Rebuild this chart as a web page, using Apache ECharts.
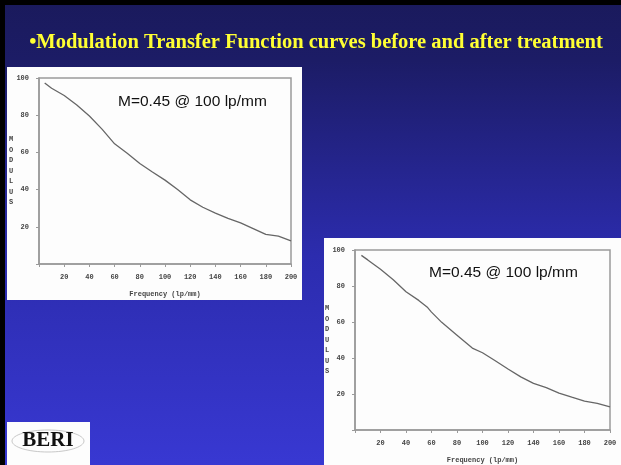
<!DOCTYPE html>
<html>
<head>
<meta charset="utf-8">
<script src="https://cdn.jsdelivr.net/npm/echarts@6/dist/echarts.min.js"></script>
<style>
  html, body { margin: 0; padding: 0; }
  #main { width: 621px; height: 465px; }
</style>
</head>
<body>
<div id="main"></div>
<script>
// MTF curve, before treatment
const freqBefore = [4.5, 10, 20, 30, 40, 50, 60, 70, 80, 90, 100, 110, 120, 130, 140, 150, 160, 170, 180, 190, 200]
const modBefore = [97.3, 94.5, 90.6, 85.5, 79.6, 72.5, 64.6, 59.5, 54, 49.5, 45.1, 40, 34.5, 30.5, 27.4, 24.5, 22.1, 19, 15.9, 15, 12.4]

// MTF curve, after treatment (right plot)
const freqAfter = [5, 10, 20, 30, 40, 50, 57, 60, 68, 80, 92, 100, 110, 120, 130, 140, 150, 160, 170, 180, 190, 200]
const modAfter = [97, 94.5, 89.3, 83.5, 76.8, 72, 68, 65.5, 59.8, 52.7, 45.5, 42.9, 38.5, 33.9, 29.5, 25.9, 23.5, 20.5, 18.2, 16, 14.8, 12.9]

const titleText = '\u2022Modulation Transfer Function curves before and after treatment'
const noteText = 'M=0.45 @ 100 lp/mm'
const xName = 'Frequency (lp/mm)'
const yName = 'MODULUS'

const chart = echarts.init(document.getElementById('main'))

const mono = 'Liberation Mono'
const tickColor = '#444'
const frameColor = '#9a9a9a'

function xAxisCfg(gridIndex) {
  return {
    gridIndex: gridIndex,
    type: 'value',
    min: 0,
    max: 200,
    interval: 20,
    name: xName,
    nameLocation: 'middle',
    nameGap: 27,
    nameMoveOverlap: false,
    nameTextStyle: { fontFamily: mono, fontSize: 7, fontWeight: 'bold', color: tickColor },
    axisLine: { lineStyle: { color: frameColor, width: 1.5 } },
    axisTick: { length: 3, lineStyle: { color: frameColor } },
    splitLine: { show: false },
    axisLabel: {
      fontFamily: mono, fontSize: 7, fontWeight: 'bold', color: tickColor, margin: 10,
      formatter: v => (v === 0 ? '' : v)
    }
  }
}

function yAxisCfg(gridIndex) {
  return {
    gridIndex: gridIndex,
    type: 'value',
    min: 0,
    max: 100,
    interval: 20,
    name: yName.split('').join('\n'),
    nameLocation: 'middle',
    nameRotate: 0,
    nameGap: 28,
    nameMoveOverlap: false,
    nameTextStyle: {
      fontFamily: mono, fontSize: 7, fontWeight: 'bold', color: tickColor,
      lineHeight: 10.5, align: 'center', verticalAlign: 'middle'
    },
    axisLine: { lineStyle: { color: frameColor, width: 1.5 } },
    axisTick: { length: 3, lineStyle: { color: frameColor } },
    splitLine: { show: false },
    axisLabel: {
      fontFamily: mono, fontSize: 7, fontWeight: 'bold', color: tickColor, margin: 10,
      formatter: v => (v === 0 ? '' : v)
    }
  }
}

function pairs(xs, ys) {
  return xs.map((x, i) => [x, ys[i]])
}

const option = {
  animation: false,
  backgroundColor: {
    type: 'linear', x: 0, y: 0, x2: 0, y2: 1,
    colorStops: [
      { offset: 0, color: '#1a1a5c' },
      { offset: 0.13, color: '#1c1c66' },
      { offset: 0.55, color: '#2c2cae' },
      { offset: 1, color: '#3838d2' }
    ]
  },
  graphic: [
    // slide frame
    { type: 'rect', shape: { x: 0, y: 0, width: 621, height: 5 }, style: { fill: '#000' }, z: 10 },
    { type: 'rect', shape: { x: 0, y: 0, width: 5, height: 465 }, style: { fill: '#000' }, z: 10 },
    // white panels behind the plots
    { type: 'rect', shape: { x: 7, y: 67, width: 295, height: 233 }, style: { fill: '#fdfdfd' }, z: -10 },
    { type: 'rect', shape: { x: 324, y: 238, width: 297, height: 227 }, style: { fill: '#fdfdfd' }, z: -10 },
    // title
    {
      type: 'text', x: 316, y: 43,
      style: {
        text: titleText, fill: '#ffff33', fontFamily: 'Liberation Serif', fontWeight: 'bold',
        fontSize: 20.5, align: 'center', verticalAlign: 'middle'
      }
    },
    // annotations
    {
      type: 'text', x: 118, y: 102, z: 10,
      style: { text: noteText, fill: '#111', fontFamily: 'Liberation Sans', fontSize: 15.5, verticalAlign: 'middle' }
    },
    {
      type: 'text', x: 429, y: 273, z: 10,
      style: { text: noteText, fill: '#111', fontFamily: 'Liberation Sans', fontSize: 15.5, verticalAlign: 'middle' }
    },
    // logo
    { type: 'rect', shape: { x: 7, y: 422, width: 83, height: 43 }, style: { fill: '#fdfdfd' } },
    {
      type: 'ellipse', shape: { cx: 48, cy: 441, rx: 36, ry: 11 },
      style: { fill: 'none', stroke: '#c8c8c8', lineWidth: 1 }
    },
    {
      type: 'text', x: 48, y: 441,
      style: {
        text: 'BERI', fill: '#111', fontFamily: 'Liberation Serif', fontWeight: 'bold',
        fontSize: 21, align: 'center', verticalAlign: 'middle'
      }
    }
  ],
  grid: [
    { left: 39, top: 78, width: 252, height: 186, show: true, borderColor: frameColor, borderWidth: 1.5 },
    { left: 355, top: 250, width: 255, height: 187, show: true, borderColor: frameColor, borderWidth: 1.5 }
  ],
  xAxis: [xAxisCfg(0), xAxisCfg(1)],
  yAxis: [yAxisCfg(0), yAxisCfg(1)],
  series: [
    {
      type: 'line', xAxisIndex: 0, yAxisIndex: 0,
      data: pairs(freqBefore, modBefore),
      showSymbol: false,
      lineStyle: { color: '#666', width: 1.3 }
    },
    {
      type: 'line', xAxisIndex: 1, yAxisIndex: 1,
      data: pairs(freqAfter, modAfter),
      showSymbol: false,
      lineStyle: { color: '#666', width: 1.3 }
    }
  ]
}

chart.setOption(option)
</script>
</body>
</html>
